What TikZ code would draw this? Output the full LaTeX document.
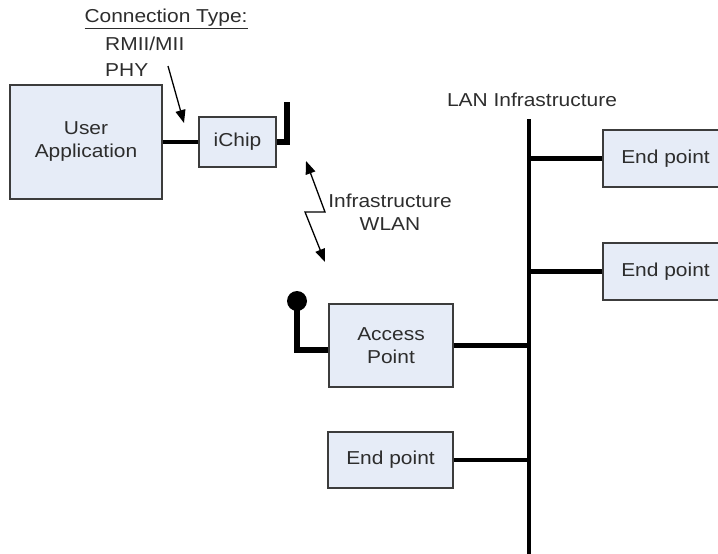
\documentclass[tikz,border=0pt]{standalone}
\usepackage{fontspec}
\setmainfont{Liberation Sans}[FakeStretch=1.12]
\usetikzlibrary{arrows.meta}
\definecolor{boxfill}{RGB}{230,236,247}
\definecolor{boxline}{RGB}{60,60,60}
\definecolor{txt}{RGB}{45,45,45}
\begin{document}
\begin{tikzpicture}[x=1pt,y=-1pt,
  >={Triangle[length=13pt,width=10pt]},
  every node/.style={font=\fontsize{18.7}{23}\selectfont, text=txt},
  blk/.style={draw=boxline, fill=boxfill, line width=1.5pt, inner sep=0pt, align=center},
  wire/.style={line width=4.5pt, line cap=butt},
  antenna/.style={line width=5.5pt, line cap=butt, line join=miter},
  thinarrow/.style={line width=1.3pt},
  lbl/.style={inner sep=0pt}]
\useasboundingbox (0,0) rectangle (718,554);
\clip (0,0) rectangle (718,554);

% boxes
\node[blk, minimum width=152pt, minimum height=114pt] (ua) at (86,142) {User\\Application};
\node[blk, minimum width=77pt, minimum height=50pt] (ichip) at (237.5,142) {iChip};
\node[blk, minimum width=124pt, minimum height=83pt] (ap) at (391,345.5) {Access\\Point};
\node[blk, minimum width=125pt, minimum height=57pt] (ep1) at (665.5,158.5) {End point};
\node[blk, minimum width=125pt, minimum height=57pt] (ep2) at (665.5,271.5) {End point};
\node[blk, minimum width=125pt, minimum height=56pt] (ep3) at (390.5,460) {End point};

% labels
\node[lbl, anchor=base] (ctype) at (166,23) {\underline{Connection Type:}};
\node[lbl, anchor=base west] (rmii) at (105,50) {RMII/MII};
\node[lbl, anchor=base west] (phy) at (105,76) {PHY};
\node[lbl, align=center] (wlan) at (390,212) {Infrastructure\\WLAN};
\node[lbl] (lan) at (532,100) {LAN Infrastructure};

% coordinates
\coordinate (bt) at (529,119);
\coordinate (bb) at (529,560);
\coordinate (ica) at (287,102);
\coordinate (apa) at (297,301);
\coordinate (cts) at (168,66);
\coordinate (cte) at (184,123);
\coordinate (w1) at (306,161);
\coordinate (w2) at (325,212);
\coordinate (w3) at (305,212);
\coordinate (w4) at (325,262);

% bus
\draw[wire] (bt) -- (bb);
\draw[wire] (ep1.west) -- (ep1.west -| bt);
\draw[wire] (ep2.west) -- (ep2.west -| bt);
\draw[wire] (ap.east) -- (ap.east -| bt);
\draw[wire] (ep3.east) -- (ep3.east -| bt);

% user app to ichip
\draw[wire] (ua.east) -- (ichip.west);
\draw[antenna] (ichip.east) -| (ica);

% access point antenna
\draw[antenna] ([yshift=-4.5pt]ap.west) -| (apa);
\fill (apa) circle (10pt);

% arrows
\draw[thinarrow, ->] (cts) -- (cte);
\draw[thinarrow, <->] (w1) -- (w2) -- (w3) -- (w4);
\end{tikzpicture}
\end{document}
